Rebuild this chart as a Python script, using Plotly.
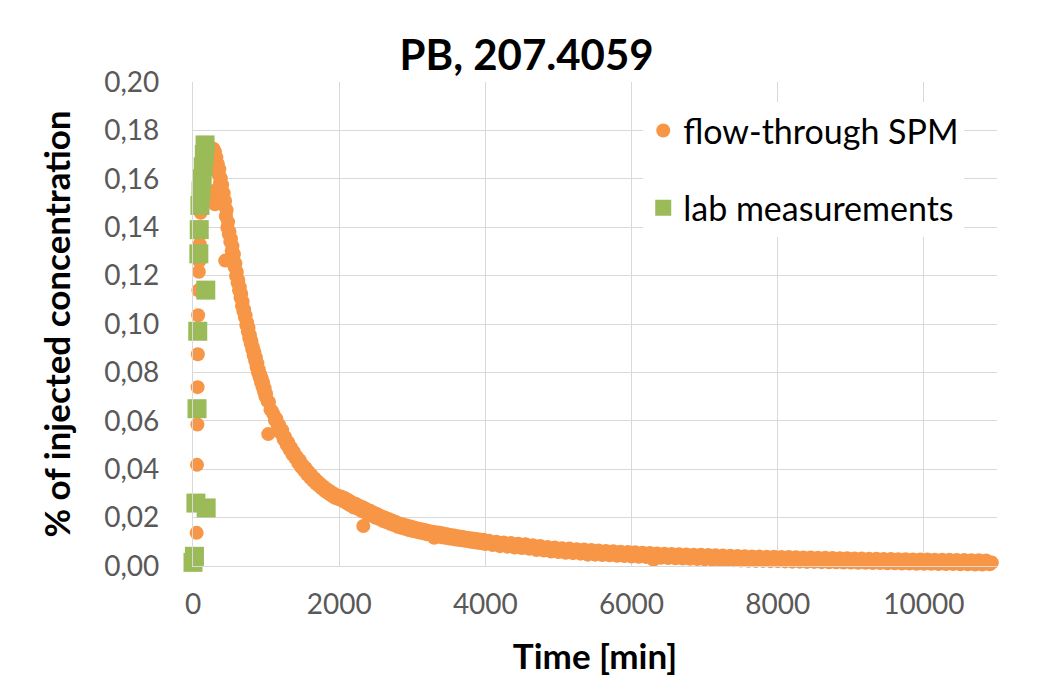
import plotly.graph_objects as go

# flow-through SPM (orange circles)
spm_time = [
    # rising limb
    50, 55, 60, 63, 66, 70, 74, 80, 86, 92, 98, 105, 112, 120, 130, 140, 150, 160, 175, 190, 205, 220, 235,
    # a few scattered points
    300, 310, 320, 440, 1030, 2330,
    # falling limb
    250, 260, 270, 280, 290, 300, 310, 320, 330, 340, 350, 360, 370, 380, 390, 400, 410, 420, 430, 440,
    450, 460, 470, 480, 490, 500, 510, 520, 530, 540, 550, 560, 570, 580, 590, 600, 610, 620, 630, 640,
    650, 660, 670, 680, 690, 700, 710, 720, 730, 740, 750, 760, 770, 780, 790, 800, 810, 820, 830, 840,
    850, 860, 870, 880, 890, 900, 910, 920, 930, 940, 950, 960, 970, 980, 990, 1000,
    1020, 1040, 1060, 1080, 1100, 1120, 1140, 1160, 1180, 1200, 1220, 1240, 1260, 1280, 1300, 1320, 1340,
    1360, 1380, 1400, 1420, 1440, 1460, 1480, 1500, 1520, 1540, 1560, 1580, 1600, 1620, 1640, 1660, 1680,
    1700, 1720, 1740, 1760, 1780, 1800, 1820, 1840, 1860, 1880, 1900, 1920, 1940, 1960, 1980, 2000,
    2025, 2050, 2075, 2100, 2125, 2150, 2175, 2200, 2225, 2250, 2275, 2300, 2325, 2350, 2375, 2400,
    2425, 2450, 2475, 2500, 2525, 2550, 2575, 2600, 2625, 2650, 2675, 2700, 2725, 2750, 2775, 2800,
    2825, 2850, 2875, 2900, 2925, 2950, 2975, 3000, 3025, 3050, 3075, 3100, 3125, 3150, 3175, 3200,
    3225, 3250, 3275, 3300, 3325, 3350, 3375, 3400, 3425, 3450, 3475, 3500, 3525, 3550, 3575, 3600,
    3625, 3650, 3675, 3700, 3725, 3750, 3775, 3800, 3825, 3850, 3875, 3900, 3925, 3950, 3975, 4000,
    4050, 4100, 4150, 4200, 4250, 4300, 4350, 4400, 4450, 4500,
    4550, 4600, 4650, 4700, 4750, 4800, 4850, 4900, 4950, 5000,
    5050, 5100, 5150, 5200, 5250, 5300, 5350, 5400, 5450, 5500,
    5550, 5600, 5650, 5700, 5750, 5800, 5850, 5900, 5950, 6000,
    6050, 6100, 6150, 6200, 6250, 6300, 6350, 6400, 6450, 6500,
    6550, 6600, 6650, 6700, 6750, 6800, 6850, 6900, 6950, 7000,
    7050, 7100, 7150, 7200, 7250, 7300, 7350, 7400, 7450, 7500,
    7550, 7600, 7650, 7700, 7750, 7800, 7850, 7900, 7950, 8000,
    8050, 8100, 8150, 8200, 8250, 8300, 8350, 8400, 8450, 8500,
    8550, 8600, 8650, 8700, 8750, 8800, 8850, 8900, 8950, 9000,
    9050, 9100, 9150, 9200, 9250, 9300, 9350, 9400, 9450, 9500,
    9550, 9600, 9650, 9700, 9750, 9800, 9850, 9900, 9950, 10000,
    10050, 10100, 10150, 10200, 10250, 10300, 10350, 10400, 10450, 10500,
    10550, 10600, 10650, 10700, 10750, 10800, 10850, 10900, 10930,
]
spm_conc = [
    0.0137, 0.0418, 0.0585, 0.0739, 0.0875, 0.1036, 0.1139, 0.1216, 0.1260, 0.1330, 0.1400, 0.1460, 0.1510,
    0.1550, 0.1590, 0.1620, 0.1650, 0.1670, 0.1690, 0.1700, 0.1715, 0.1720, 0.1712,
    0.1495, 0.1530, 0.1555, 0.1262, 0.0545, 0.0165,
    0.1698, 0.1721, 0.1709, 0.1724, 0.1695, 0.1712, 0.1680, 0.1688, 0.1652, 0.1661, 0.1618, 0.1640, 0.1585,
    0.1602, 0.1551, 0.1575, 0.1528, 0.1541, 0.1489, 0.1508, 0.1445, 0.1470, 0.1398, 0.1421, 0.1372, 0.1381,
    0.1340, 0.1352, 0.1301, 0.1322, 0.1268, 0.1289, 0.1235, 0.1250, 0.1198, 0.1215, 0.1170, 0.1182, 0.1139,
    0.1152, 0.1108, 0.1125, 0.1075, 0.1092, 0.1052, 0.1060, 0.1028, 0.1035, 0.0995, 0.1006, 0.0968, 0.0985,
    0.0941, 0.0955, 0.0918, 0.0930, 0.0897, 0.0905, 0.0871, 0.0885, 0.0848, 0.0862, 0.0822, 0.0838, 0.0799,
    0.0812, 0.0781, 0.0792, 0.0760, 0.0775, 0.0741, 0.0757, 0.0722, 0.0735, 0.0701, 0.0712,
    0.0682, 0.0678, 0.0646, 0.0641, 0.0628, 0.0603, 0.0609, 0.0579, 0.0583, 0.0549, 0.0561, 0.0524, 0.0533,
    0.0501, 0.0512, 0.0481, 0.0490, 0.0462, 0.0471, 0.0446, 0.0452, 0.0425, 0.0437, 0.0409, 0.0418, 0.0394,
    0.0405, 0.0379, 0.0390, 0.0366, 0.0376, 0.0353, 0.0363, 0.0342, 0.0351, 0.0331, 0.0340, 0.0321, 0.0330,
    0.0311, 0.0320, 0.0302, 0.0312, 0.0294, 0.0304, 0.0286, 0.0297, 0.0280, 0.0290, 0.0276,
    0.0287, 0.0268, 0.0281, 0.0260, 0.0273, 0.0251, 0.0263, 0.0242, 0.0257, 0.0237, 0.0249, 0.0228, 0.0243,
    0.0222, 0.0234, 0.0213, 0.0228, 0.0207, 0.0220, 0.0199, 0.0214, 0.0194, 0.0206, 0.0186, 0.0200, 0.0181,
    0.0194, 0.0174, 0.0188, 0.0169, 0.0182, 0.0162, 0.0176, 0.0158, 0.0172, 0.0154, 0.0167, 0.0149, 0.0163,
    0.0145, 0.0159, 0.0142, 0.0155, 0.0138, 0.0152, 0.0135, 0.0149, 0.0131, 0.0145, 0.0129, 0.0142, 0.0117,
    0.0139, 0.0124, 0.0137, 0.0119, 0.0134, 0.0117, 0.0131, 0.0114, 0.0128, 0.0112, 0.0126, 0.0109, 0.0123,
    0.0107, 0.0121, 0.0105, 0.0118, 0.0103, 0.0116, 0.0100, 0.0114, 0.0098, 0.0112, 0.0096, 0.0110, 0.0094,
    0.0108, 0.0091,
    0.0104, 0.0087, 0.0100, 0.0082, 0.0097, 0.0080, 0.0095, 0.0076, 0.0092, 0.0074,
    0.0090, 0.0071, 0.0086, 0.0066, 0.0083, 0.0064, 0.0079, 0.0060, 0.0076, 0.0058,
    0.0073, 0.0055, 0.0072, 0.0053, 0.0069, 0.0051, 0.0068, 0.0047, 0.0066, 0.0047,
    0.0064, 0.0045, 0.0062, 0.0044, 0.0061, 0.0042, 0.0059, 0.0041, 0.0058, 0.0039,
    0.0057, 0.0038, 0.0055, 0.0037, 0.0054, 0.0026, 0.0052, 0.0034, 0.0051, 0.0033,
    0.0050, 0.0032, 0.0049, 0.0031, 0.0048, 0.0030, 0.0047, 0.0029, 0.0046, 0.0028,
    0.0045, 0.0027, 0.0044, 0.0026, 0.0043, 0.0025, 0.0042, 0.0024, 0.0041, 0.0023,
    0.0040, 0.0022, 0.0039, 0.0021, 0.0039, 0.0021, 0.0038, 0.0020, 0.0038, 0.0020,
    0.0037, 0.0019, 0.0037, 0.0018, 0.0036, 0.0018, 0.0035, 0.0017, 0.0035, 0.0017,
    0.0034, 0.0016, 0.0034, 0.0015, 0.0033, 0.0015, 0.0032, 0.0014, 0.0032, 0.0014,
    0.0031, 0.0013, 0.0031, 0.0013, 0.0030, 0.0012, 0.0030, 0.0012, 0.0029, 0.0011,
    0.0029, 0.0011, 0.0028, 0.0010, 0.0028, 0.0010, 0.0027, 0.0009, 0.0027, 0.0009,
    0.0027, 0.0009, 0.0026, 0.0008, 0.0026, 0.0008, 0.0026, 0.0008, 0.0025, 0.0007,
    0.0025, 0.0007, 0.0024, 0.0006, 0.0024, 0.0006, 0.0023, 0.0007, 0.0014,
]

# lab measurements (green squares)
lab_time = [0, 20, 40, 55, 65, 80, 85, 95, 110, 125, 140, 155, 165, 175, 180]
lab_conc = [0.0015, 0.0040, 0.0260, 0.0650, 0.0970, 0.1290, 0.1390, 0.1490, 0.1550, 0.1600,
            0.1650, 0.1700, 0.1740, 0.1140, 0.0240]

y_ticks = [0.00, 0.02, 0.04, 0.06, 0.08, 0.10, 0.12, 0.14, 0.16, 0.18, 0.20]
y_tick_labels = ["0,00", "0,02", "0,04", "0,06", "0,08", "0,10", "0,12", "0,14", "0,16", "0,18", "0,20"]
x_ticks = [0, 2000, 4000, 6000, 8000, 10000]
x_tick_labels = ["0", "2000", "4000", "6000", "8000", "10000"]

FONT = "Lato, 'Open Sans', sans-serif"

fig = go.Figure()
fig.add_trace(go.Scatter(
    x=spm_time, y=spm_conc, mode="markers", name="flow-through SPM",
    legendgroup="a",
    marker=dict(symbol="circle", size=14, color="#F79646", line=dict(width=0)),
    cliponaxis=False,
))
fig.add_trace(go.Scatter(
    x=lab_time, y=lab_conc, mode="markers", name="lab measurements",
    legendgroup="b",
    marker=dict(symbol="square", size=19, color="#9BBB59", line=dict(width=0)),
    cliponaxis=False,
))

fig.update_layout(
    width=1029, height=673,
    margin=dict(l=185, r=40, t=74, b=112),
    paper_bgcolor="white", plot_bgcolor="white",
    font=dict(family=FONT, color="#595959"),
    title=dict(text="<b>PB, 207.4059</b>", x=0.504, xanchor="center", y=0.930, yanchor="middle",
               font=dict(size=42, color="black", family=FONT)),
    showlegend=True,
    legend=dict(x=0.56, y=0.959, xanchor="left", yanchor="top", bgcolor="white",
                font=dict(size=34, color="black", family=FONT), tracegroupgap=30,
                itemsizing="trace"),
    xaxis=dict(range=[0, 11000], tickvals=x_ticks, ticktext=x_tick_labels,
               showgrid=True, gridcolor="#d9d9d9", gridwidth=1.3, zeroline=False,
               showline=True, linecolor="#d9d9d9", linewidth=1.3,
               ticks="", tickfont=dict(size=28, color="#595959"), ticklabelstandoff=13,
               title=dict(text="<b>Time [min]</b>", font=dict(size=35, color="black"), standoff=25)),
    yaxis=dict(range=[0, 0.2], tickvals=y_ticks, ticktext=y_tick_labels,
               showgrid=True, gridcolor="#d9d9d9", gridwidth=1.3, zeroline=False,
               showline=True, linecolor="#d9d9d9", linewidth=1.3,
               ticks="", tickfont=dict(size=28, color="#595959"), ticklabelstandoff=27,
               title=dict(text="<b>% of injected concentration</b>", font=dict(size=35, color="black"),
                          standoff=22)),
)

fig.write_html("out.html")
